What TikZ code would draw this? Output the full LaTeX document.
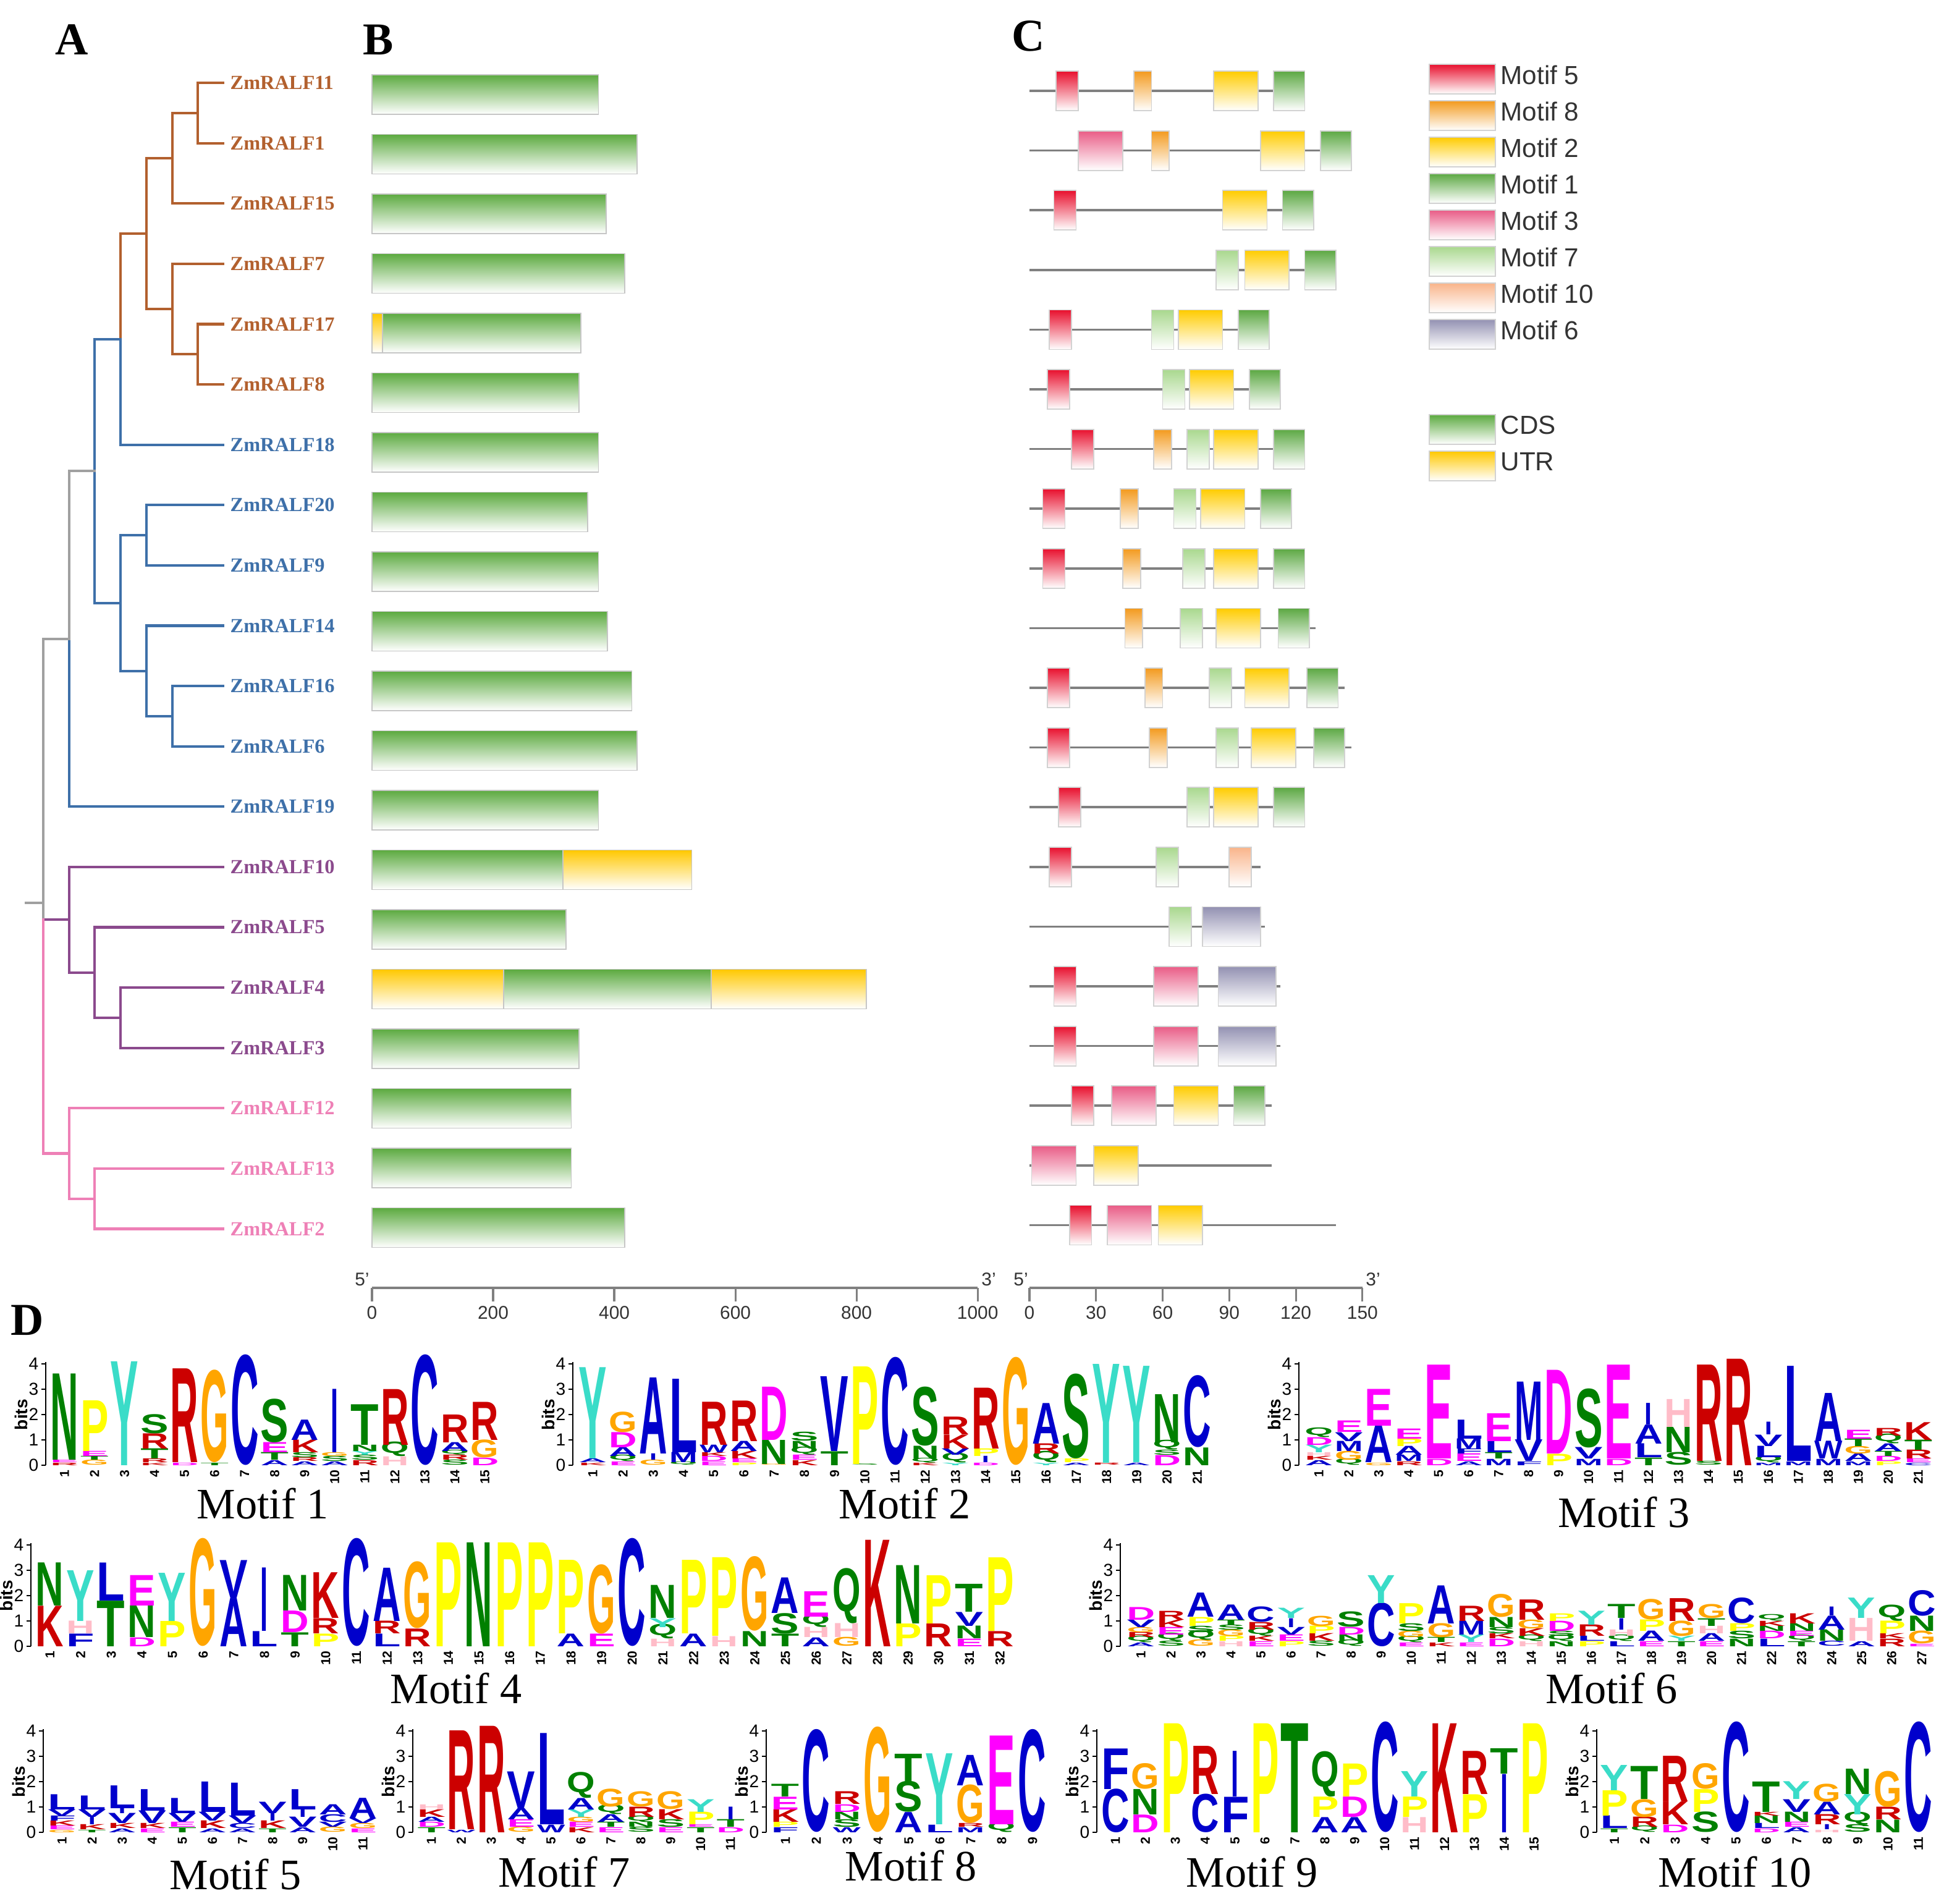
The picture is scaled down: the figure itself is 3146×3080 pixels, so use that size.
\documentclass[tikz,border=0pt]{standalone}
\usepackage{fontspec}
\setmainfont{Liberation Serif}
\setsansfont{Liberation Sans}
\usepackage{graphicx}
\usepackage{xcolor}

% clade colours
\definecolor{cBrn}{HTML}{B2602E}
\definecolor{cBlu}{HTML}{3E70A9}
\definecolor{cPur}{HTML}{8B4A8D}
\definecolor{cPnk}{HTML}{EE80B6}
\definecolor{cGry}{HTML}{A0A0A0}
% gene parts and motifs
\definecolor{cds}{HTML}{5CAA40}
\definecolor{utr}{HTML}{FFC800}
\definecolor{mo5}{HTML}{E8102E}
\definecolor{mo8}{HTML}{F39A1E}
\definecolor{mo2}{HTML}{FFCC00}
\definecolor{mo1}{HTML}{5CA843}
\definecolor{mo3}{HTML}{E95C86}
\definecolor{mo7}{HTML}{A9D88E}
\definecolor{mo10}{HTML}{F9B48A}
\definecolor{mo6}{HTML}{9391B2}
\definecolor{txt}{HTML}{333333}
% residue colours
\definecolor{lgBlue}{HTML}{0000CC}
\definecolor{lgGreen}{HTML}{008000}
\definecolor{lgMag}{HTML}{FF00FF}
\definecolor{lgRed}{HTML}{CC0000}
\colorlet{lgA}{lgBlue}\colorlet{lgC}{lgBlue}\colorlet{lgF}{lgBlue}\colorlet{lgI}{lgBlue}
\colorlet{lgL}{lgBlue}\colorlet{lgM}{lgBlue}\colorlet{lgV}{lgBlue}\colorlet{lgW}{lgBlue}
\colorlet{lgN}{lgGreen}\colorlet{lgQ}{lgGreen}\colorlet{lgS}{lgGreen}\colorlet{lgT}{lgGreen}
\colorlet{lgD}{lgMag}\colorlet{lgE}{lgMag}
\colorlet{lgK}{lgRed}\colorlet{lgR}{lgRed}
\definecolor{lgH}{HTML}{FFBCC8}
\definecolor{lgG}{HTML}{FFA500}
\definecolor{lgP}{HTML}{FFFF00}
\definecolor{lgY}{HTML}{3ADCC8}

\tikzset{
  tre/.style={line width=1.2pt, line cap=rect},
  leaf/.style={anchor=west, inner xsep=0.11cm, inner ysep=0pt, font=\fontsize{9.2}{11}\selectfont\bfseries},
  panel/.style={font=\fontsize{21}{24}\selectfont\bfseries},
  gbar/.style={draw=gray!45, line width=0.5pt, bottom color=white},
  mbox/.style={draw=gray!35, line width=0.5pt, bottom color=white},
  cline/.style={draw=gray, line width=1pt},
  axln/.style={draw=gray, line width=0.9pt},
  axlab/.style={font=\sffamily\fontsize{8.5}{10}\selectfont, text=txt, inner sep=1pt},
  lgtext/.style={anchor=west, font=\sffamily\fontsize{12}{14}\selectfont, text=txt, inner sep=0pt},
  res/.style={anchor=south west, inner sep=0pt, outer sep=0pt, font=\sffamily\bfseries},
  posn/.style={rotate=90, anchor=east, inner sep=0.5pt, font=\sffamily\bfseries\fontsize{6}{6}\selectfont},
  lgax/.style={line width=0.7pt},
  ticklab/.style={anchor=east, inner sep=1pt, font=\sffamily\fontsize{8}{9}\selectfont},
  bitsl/.style={rotate=90, font=\sffamily\bfseries\fontsize{8}{9}\selectfont},
  mtitle/.style={font=\fontsize{20}{22}\selectfont}
}

\newcommand\lgw{0.455cm}
\newcommand\lgwI{0.12cm}% the I stays narrow
% #1 name, #2 axis x, #3 zero y, #4 first column x, #5 column width, #6 columns (bottom to top)
\newcommand\logo[6]{%
  \draw[lgax] (#2,#3) -- (#2,{#3-4*41-3});
  \foreach \bt in {0,...,4} {
    \draw[lgax] (#2,{#3-41*\bt}) -- ++(-7,0) node[ticklab] (#1-t\bt) {\bt};
  }
  \node[bitsl] (#1-bits) at ({#2-40},{#3-82}) {bits};
  \foreach \colsp [count=\ci] in {#6} {
    \xdef\ystk{#3}
    \foreach \rl/\rh [count=\ri] in \colsp {
      \pgfmathsetmacro\hh{\rh*0.41}
      \ifcsname lgw\rl\endcsname \edef\cw{\csname lgw\rl\endcsname}\else \edef\cw{\lgw}\fi
      \node[res] (#1-\ci-\ri) at ({#4+(\ci-1)*#5+1.5},\ystk)
        {\makebox[\lgw]{\resizebox{\cw}{\hh cm}{\textcolor{lg\rl}{\rl}}}};
      \pgfmathsetmacro\ynew{\ystk-\rh*41}
      \xdef\ystk{\ynew}
    }
    \node[posn] (#1-n\ci) at ({#4+(\ci-0.5)*#5},{#3+5}) {\ci};
  }
}

\begin{document}
\begin{tikzpicture}[x=0.01cm, y=-0.01cm]
\useasboundingbox (0,0) rectangle (3146,3080);

% panel letters
\node[panel] (pA) at (116,64) {A};
\node[panel] (pB) at (612,64) {B};
\node[panel] (pC) at (1664,58) {C};
\node[panel] (pD) at (44,2136) {D};

% tree leaves
\foreach \lf/\tc [count=\ri from 0] in {11/cBrn,1/cBrn,15/cBrn,7/cBrn,17/cBrn,8/cBrn,
    18/cBlu,20/cBlu,9/cBlu,14/cBlu,16/cBlu,6/cBlu,19/cBlu,
    10/cPur,5/cPur,4/cPur,3/cPur,12/cPnk,13/cPnk,2/cPnk}
  \node[leaf, text=\tc] (t\lf) at (361,{134+97.6*\ri}) {ZmRALF\lf};

% inner nodes
\coordinate (nA) at (320,182.8);
\coordinate (nB) at (279,256);
\coordinate (nC) at (320,573.2);
\coordinate (nD) at (279,500);
\coordinate (nE) at (237,378);
\coordinate (nF) at (195,548.8);
\coordinate (nG) at (237,866);
\coordinate (nH) at (279,1158.8);
\coordinate (nI) at (237,1085.6);
\coordinate (nJ) at (195,975.8);
\coordinate (nK) at (153,762.3);
\coordinate (nL) at (112,1033.8);
\coordinate (nM) at (195,1646.8);
\coordinate (nN) at (153,1573.6);
\coordinate (nO) at (112,1488.2);
\coordinate (nP) at (153,1939.6);
\coordinate (nQ) at (112,1866.4);
\coordinate (root) at (70,1461);
\coordinate (stub) at (42,1461);
\coordinate (rO) at (70,1488.2);

% branches
\draw[tre, cBrn] (t11.west) -| (nA) |- (t1.west);
\draw[tre, cBrn] (nA) -| (nB) |- (t15.west);
\draw[tre, cBrn] (t17.west) -| (nC) |- (t8.west);
\draw[tre, cBrn] (t7.west) -| (nD) |- (nC);
\draw[tre, cBrn] (nB) -| (nE) |- (nD);
\draw[tre, cBrn] (nE) -| (nF);
\draw[tre, cBlu] (nF) |- (t18.west);
\draw[tre, cBlu] (nF) -| (nK) |- (nJ);
\draw[tre, cBlu] (t20.west) -| (nG) |- (t9.west);
\draw[tre, cBlu] (t16.west) -| (nH) |- (t6.west);
\draw[tre, cBlu] (t14.west) -| (nI) |- (nH);
\draw[tre, cBlu] (nG) -| (nJ) |- (nI);
\draw[tre, cGry] (nK) -| (nL);
\draw[tre, cBlu] (nL) |- (t19.west);
\draw[tre, cGry] (nL) -| (root);
\draw[tre, cGry] (stub) -- (root) -- (rO);
\draw[tre, cPur] (rO) -- (nO);
\draw[tre, cPur] (t10.west) -| (nO) |- (nN);
\draw[tre, cPur] (t5.west) -| (nN) |- (nM);
\draw[tre, cPur] (t4.west) -| (nM) |- (t3.west);
\draw[tre, cPnk] (rO) |- (nQ);
\draw[tre, cPnk] (t12.west) -| (nQ) |- (nP);
\draw[tre, cPnk] (t13.west) -| (nP) |- (t2.west);

% B: gene structure
\begin{scope}[shift={(602,0)}, x=0.0098cm]
  \foreach \ri/\ua/\ub/\tc in {0/0/374/cds,1/0/438/cds,2/0/387/cds,3/0/417/cds,
      4/0/17/utr,4/17/345/cds,5/0/342/cds,6/0/374/cds,7/0/356/cds,8/0/374/cds,
      9/0/389/cds,10/0/429/cds,11/0/438/cds,12/0/374/cds,13/0/315/cds,13/315/528/utr,
      14/0/320/cds,15/0/217/utr,15/217/560/cds,15/560/816/utr,16/0/342/cds,
      17/0/329/cds,18/0/329/cds,19/0/417/cds}
    \shadedraw[gbar, top color=\tc] (\ua,{153+96.5*\ri-32}) rectangle (\ub,{153+96.5*\ri+32});
  \draw[axln] (0,2084) -- (1000,2084);
  \foreach \u in {0,200,...,1000} {
    \draw[axln] (\u,2084) -- ++(0,22);
    \node[axlab] (bx\u) at (\u,2124) {\u};
  }
\end{scope}
\node[axlab] (b5) at (586,2070) {5'};
\node[axlab] (b3) at (1600,2070) {3'};

% C: motif positions
\begin{scope}[shift={(1666,0)}, x=0.0359cm]
  \foreach \ri/\ue in {0/124,1/145,2/128,3/138,4/108,5/113,6/124,7/118,8/124,9/129,
      10/142,11/145,12/124,13/104,14/106,15/113,16/113,17/109,18/109,19/138}
    \draw[cline] (0,{147+96.6*\ri}) -- (\ue,{147+96.6*\ri});
  \foreach \ri/\ua/\ub/\tc in {0/12/22/mo5,0/47/55/mo8,0/83/103/mo2,0/110/124/mo1,
      1/22/42/mo3,1/55/63/mo8,1/104/124/mo2,1/131/145/mo1,
      2/11/21/mo5,2/87/107/mo2,2/114/128/mo1,
      3/84/94/mo7,3/97/117/mo2,3/124/138/mo1,
      4/9/19/mo5,4/55/65/mo7,4/67/87/mo2,4/94/108/mo1,
      5/8/18/mo5,5/60/70/mo7,5/72/92/mo2,5/99/113/mo1,
      6/19/29/mo5,6/56/64/mo8,6/71/81/mo7,6/83/103/mo2,6/110/124/mo1,
      7/6/16/mo5,7/41/49/mo8,7/65/75/mo7,7/77/97/mo2,7/104/118/mo1,
      8/6/16/mo5,8/42/50/mo8,8/69/79/mo7,8/83/103/mo2,8/110/124/mo1,
      9/43/51/mo8,9/68/78/mo7,9/84/104/mo2,9/112/126/mo1,
      10/8/18/mo5,10/52/60/mo8,10/81/91/mo7,10/97/117/mo2,10/125/139/mo1,
      11/8/18/mo5,11/54/62/mo8,11/84/94/mo7,11/100/120/mo2,11/128/142/mo1,
      12/13/23/mo5,12/71/81/mo7,12/83/103/mo2,12/110/124/mo1,
      13/9/19/mo5,13/57/67/mo7,13/90/100/mo10,
      14/63/73/mo7,14/78/104/mo6,
      15/11/21/mo5,15/56/76/mo3,15/85/111/mo6,
      16/11/21/mo5,16/56/76/mo3,16/85/111/mo6,
      17/19/29/mo5,17/37/57/mo3,17/65/85/mo2,17/92/106/mo1,
      18/1/21/mo3,18/29/49/mo2,
      19/18/28/mo5,19/35/55/mo3,19/58/78/mo2}
    \shadedraw[mbox, top color=\tc] (\ua,{147+96.6*\ri-32}) rectangle (\ub,{147+96.6*\ri+32});
  \draw[axln] (0,2084) -- (150,2084);
  \foreach \u in {0,30,...,150} {
    \draw[axln] (\u,2084) -- ++(0,22);
    \node[axlab] (cx\u) at (\u,2124) {\u};
  }
\end{scope}
\node[axlab] (c5) at (1652,2070) {5'};
\node[axlab] (c3) at (2222,2070) {3'};

% legend
\foreach \tc/\mt [count=\ri from 0] in {mo5/Motif 5,mo8/Motif 8,mo2/Motif 2,mo1/Motif 1,
    mo3/Motif 3,mo7/Motif 7,mo10/Motif 10,mo6/Motif 6} {
  \shadedraw[mbox, top color=\tc] (2313,{104+59*\ri}) rectangle (2420,{152+59*\ri});
  \node[lgtext] (key\ri) at (2428,{121+59*\ri}) {\mt};
}
\shadedraw[mbox, top color=cds] (2313,671) rectangle (2420,719);
\node[lgtext] (keyC) at (2428,688) {CDS};
\shadedraw[mbox, top color=utr] (2313,730) rectangle (2420,778);
\node[lgtext] (keyU) at (2428,747) {UTR};

% D: sequence logos
\logo{m1}{74}{2371}{80}{48.6}{{R/0.1,E/0.1,N/3.4},{G/0.2,T/0.15,E/0.2,P/2.0},{Y/4.1},
  {K/0.1,R/0.15,T/0.4,R/0.6,S/0.75},{D/0.1,R/3.7},{T/0.1,G/3.6},{C/4.3},
  {A/0.2,T/0.3,E/0.4,S/1.7},{A/0.15,R/0.15,S/0.2,K/0.5,A/0.8},{A/0.15,S/0.2,G/0.15,I/2.5},
  {R/0.2,S/0.2,Y/0.15,N/0.25,T/1.6},{H/0.35,Q/0.45,R/2.2},{C/4.3},
  {S/0.2,R/0.2,Q/0.15,A/0.35,R/1.1},{D/0.3,G/0.7,R/1.5}}
\node[mtitle] (tm1) at (425,2433) {Motif 1};

\logo{m2}{927}{2371}{935}{48.9}{{K/0.1,A/0.15,Y/3.6},{E/0.15,Q/0.2,A/0.35,D/0.6,G/0.8},
  {G/0.2,I/0.25,A/3.0},{Q/0.1,M/0.4,L/2.9},{E/0.15,D/0.2,K/0.15,W/0.3,R/1.7},
  {P/0.1,E/0.15,K/0.3,A/0.4,R/1.6},{G/0.05,N/0.95,D/2.1},{K/0.2,E/0.2,Q/0.25,N/0.3,S/0.35},
  {T/0.55,V/2.95},{S/0.05,P/3.85},{C/4.2},{K/0.1,Q/0.15,N/0.5,S/2.3},
  {Y/0.1,Q/0.3,V/0.25,K/0.55,R/0.7},{D/0.1,I/0.25,P/0.3,R/2.4},{G/4.2},
  {Y/0.1,Q/0.35,R/0.4,A/1.6},{A/0.1,P/0.15,S/3.3},{R/0.08,Y/3.9},{A/0.1,Y/3.8},
  {D/0.4,S/0.2,Q/0.3,N/1.9},{N/0.7,C/2.8}}
\node[mtitle] (tm2) at (1464,2433) {Motif 2};

\logo{m3}{2102}{2371}{2110}{48.5}{{A/0.2,K/0.15,H/0.15,Y/0.3,D/0.3,Q/0.3},
  {Q/0.2,G/0.35,M/0.4,V/0.35,E/0.45},{G/0.1,A/1.45,E/1.45},{R/0.15,M/0.25,A/0.35,P/0.3,E/0.4},
  {D/0.25,E/3.7},{A/0.15,E/0.3,F/0.2,M/0.4,L/0.75},{M/0.25,T/0.25,L/0.45,E/1.1},
  {F/0.15,V/0.85,M/2.3},{P/0.45,D/3.3},{M/0.25,V/0.45,S/2.3},{D/0.25,E/3.7},
  {T/0.3,L/0.55,A/0.75,I/0.85},{S/0.5,N/1.0,H/1.1},{S/0.15,R/3.8},{R/4.2},
  {M/0.1,Q/0.2,L/0.45,V/0.45,I/0.5},{M/0.15,L/3.75},{M/0.25,W/0.7,A/1.9},
  {M/0.15,A/0.3,G/0.3,T/0.3,E/0.35},{P/0.15,D/0.2,T/0.2,A/0.3,Q/0.3,R/0.3},
  {C/0.1,E/0.15,R/0.35,T/0.4,K/0.7}}
\node[mtitle] (tm3) at (2628,2447) {Motif 3};

\logo{m4}{50}{2664}{56}{49.6}{{K/1.6,N/1.7},{F/0.5,H/0.5,Y/2.0},{T/1.8,L/1.5},
  {D/0.35,N/1.25,E/1.2},{P/1.0,Y/1.9},{G/4.2},{A/1.9,V/1.5},{L/0.6,I/2.5},
  {T/0.55,D/0.85,N/1.4},{P/0.5,R/0.6,K/1.8},{C/4.2},{L/0.5,R/0.5,A/2.1},{R/0.7,G/2.6},
  {P/4.1},{N/4.1},{P/4.1},{P/4.1},{A/0.5,P/2.9},{E/0.5,G/2.7},{C/4.2},
  {H/0.3,Q/0.45,Y/0.35,N/1.3},{A/0.5,P/2.9},{H/0.4,P/3.1},{N/0.6,G/2.9},
  {T/0.5,S/0.8,A/1.4},{A/0.35,H/0.4,Q/0.4,E/1.0},{G/0.35,H/0.55,Q/1.7},{K/4.2},
  {P/0.9,N/2.3},{R/0.9,P/1.9},{E/0.3,N/0.5,V/0.55,T/1.1},{R/0.6,P/2.9}}
\node[mtitle] (tm4) at (738,2732) {Motif 4};

\logo{m6}{1813}{2664}{1822}{48.6}{{A/0.15,Q/0.2,R/0.2,G/0.2,V/0.3,D/0.5},
  {S/0.2,Q/0.25,E/0.3,K/0.3,R/0.35},{G/0.25,Q/0.3,S/0.25,P/0.35,A/0.95},
  {H/0.2,P/0.2,G/0.25,S/0.2,T/0.2,A/0.6},{E/0.2,K/0.2,Q/0.25,R/0.3,C/0.6},
  {P/0.2,E/0.25,V/0.3,I/0.35,Y/0.4},{S/0.2,K/0.3,P/0.3,G/0.4},{Q/0.2,N/0.25,D/0.3,S/0.6},
  {C/1.7,Y/1.1},{E/0.15,Q/0.2,G/0.25,S/0.3,P/0.8},{K/0.15,T/0.2,G/0.55,A/1.5},
  {E/0.15,Y/0.3,M/0.55,R/0.6},{D/0.3,K/0.2,S/0.25,N/0.4,G/0.9},
  {H/0.2,Q/0.2,K/0.3,G/0.35,R/0.8},{N/0.2,Q/0.2,S/0.2,D/0.4,P/0.3},
  {P/0.2,L/0.2,R/0.45,Y/0.55},{L/0.2,Q/0.2,H/0.25,I/0.45,T/0.55},
  {E/0.2,A/0.4,P/0.45,G/0.8},{T/0.2,Y/0.2,G/0.6,R/0.9},{E/0.2,A/0.3,H/0.3,T/0.3,G/0.55},
  {N/0.3,S/0.3,P/0.3,C/1.0},{L/0.3,D/0.3,N/0.2,K/0.2,Q/0.2},{T/0.2,Q/0.2,E/0.2,N/0.3,K/0.4},
  {C/0.2,N/0.45,A/0.55,I/0.35},{A/0.2,H/0.9,Y/0.8},{R/0.3,K/0.2,P/0.5,Q/0.5},
  {E/0.1,G/0.5,N/0.6,C/1.0}}
\node[mtitle] (tm6) at (2608,2732) {Motif 6};

\logo{m5}{70}{2965}{76}{48.7}{{G/0.1,E/0.15,K/0.2,F/0.2,V/0.25,L/0.6},
  {T/0.1,K/0.2,I/0.3,V/0.3,L/0.55},{A/0.15,K/0.2,V/0.4,I/0.2,L/0.9},
  {E/0.15,K/0.2,V/0.5,L/0.85},{T/0.2,E/0.2,V/0.35,L/0.6},{A/0.15,K/0.3,V/0.35,L/1.2},
  {A/0.15,C/0.2,V/0.3,L/1.3},{T/0.15,K/0.3,I/0.3,V/0.45},{A/0.2,V/0.4,I/0.3,L/0.8},
  {G/0.2,V/0.2,C/0.3,A/0.4},{E/0.15,G/0.2,V/0.2,A/0.8}}
\node[mtitle] (tm5) at (381,3033) {Motif 5};

\logo{m7}{668}{2965}{674}{48.4}{{T/0.2,D/0.2,A/0.2,K/0.3,H/0.2},{W/0.1,R/3.9},{R/4.2},
  {G/0.2,E/0.3,A/0.45,V/1.45},{W/0.3,L/3.6},{K/0.2,E/0.2,G/0.2,Y/0.3,A/0.45,Q/0.8},
  {E/0.2,T/0.2,A/0.3,Q/0.3,G/0.7},{S/0.2,N/0.2,Q/0.2,R/0.4,G/0.6},{E/0.2,S/0.3,K/0.4,G/0.7},
  {T/0.2,E/0.1,P/0.5,Y/0.5},{D/0.2,T/0.3,I/0.5}}
\node[mtitle] (tm7) at (913,3029) {Motif 7};

\logo{m8}{1240}{2965}{1246}{50}{{F/0.2,P/0.2,K/0.5,E/0.5,T/0.5},{C/4.0},
  {W/0.2,S/0.3,N/0.3,D/0.3,R/0.5},{G/4.1},{A/0.8,S/1.2,T/1.1},{L/0.3,Y/2.8},
  {M/0.2,R/0.15,G/1.5,A/1.2},{Q/0.3,E/3.5},{C/4.0}}
\node[mtitle] (tm8) at (1474,3019) {Motif 8};

\logo{m9}{1775}{2965}{1781}{48.4}{{C/1.7,F/1.6},{D/0.7,N/1.0,G/1.0},{P/4.3},{C/1.5,R/1.9},
  {F/1.4,I/1.8},{P/4.3},{T/4.3},{A/0.6,P/0.8,Q/1.4},{A/0.6,D/0.8,P/1.3},{C/4.3},
  {H/0.6,P/0.8,Y/1.0},{K/4.3},{P/1.5,R/1.7},{I/2.3,T/1.0},{P/4.3}}
\node[mtitle] (tm9) at (2026,3029) {Motif 9};

\logo{m10}{2584}{2965}{2588}{49.2}{{T/0.15,L/0.5,P/1.0,Y/1.0},{Q/0.2,R/0.4,G/0.7,T/1.3},
  {D/0.3,K/0.9,R/1.8},{S/0.8,P/0.9,G/1.0},{C/4.3},{D/0.15,L/0.2,N/0.3,K/0.15,T/1.2},
  {A/0.2,E/0.2,N/0.4,V/0.5,Y/0.7},{H/0.1,I/0.2,R/0.4,A/0.5,G/0.7},{S/0.3,Q/0.4,Y/0.8,N/1.0},
  {N/0.5,R/0.5,G/1.4},{C/4.3}}
\node[mtitle] (tm10) at (2808,3029) {Motif 10};
\end{tikzpicture}
\end{document}
